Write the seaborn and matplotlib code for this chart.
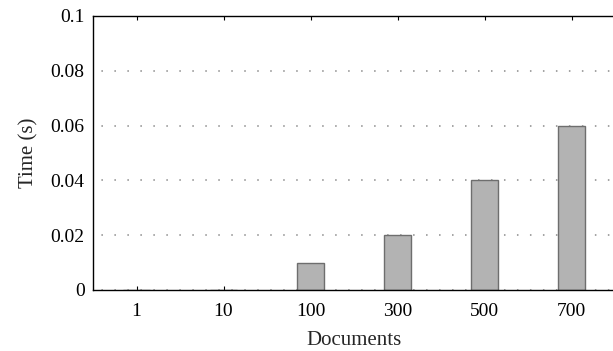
import matplotlib
matplotlib.use("Agg")
import matplotlib.pyplot as plt
import seaborn as sns
import pandas as pd

documents = ["1", "10", "100", "300", "500", "700"]
times = [0.0, 0.0, 0.01, 0.02, 0.04, 0.06]
yticks = [0, 0.02, 0.04, 0.06, 0.08, 0.1]
ytick_labels = ["0", "0.02", "0.04", "0.06", "0.08", "0.1"]

sns.set_style("white")
plt.rcParams['font.family'] = ['Liberation Serif', 'DejaVu Serif']

df = pd.DataFrame({"Documents": documents, "Time": times})

fig = plt.figure(figsize=(6.13, 3.51), dpi=100)
ax = fig.add_axes([93/613, 1 - 290/351, (615 - 93)/613, (290 - 16)/351])

sns.barplot(data=df, x="Documents", y="Time", ax=ax, color="#b3b3b3",
            edgecolor="#6e6e6e", linewidth=1.0, width=0.3, saturation=1, zorder=2)

ax.set_xlim(-0.5, 5.5)
ax.set_ylim(0, 0.1)
ax.set_yticks(yticks)
ax.set_yticklabels(ytick_labels)
ax.yaxis.grid(True, linestyle=(3, (1, 7.5)), color="#8a8a8a", linewidth=1.1, zorder=0)
ax.xaxis.grid(False)
ax.set_axisbelow(True)

for s in ["left", "bottom", "top"]:
    ax.spines[s].set_visible(True)
    ax.spines[s].set_color("black")
    ax.spines[s].set_linewidth(1.0)
    ax.spines[s].set_zorder(3)
ax.spines["right"].set_visible(False)

ax.tick_params(axis="x", direction="in", length=3, width=0.8, top=True, bottom=True,
               labelsize=14, pad=9, colors="black")
ax.tick_params(axis="y", length=0, labelsize=14, pad=6, colors="black")

ax.set_xlabel("Documents", fontsize=15, labelpad=8)
ax.set_ylabel("Time (s)", fontsize=15, labelpad=9)

fig.savefig("out.png", dpi=100)
